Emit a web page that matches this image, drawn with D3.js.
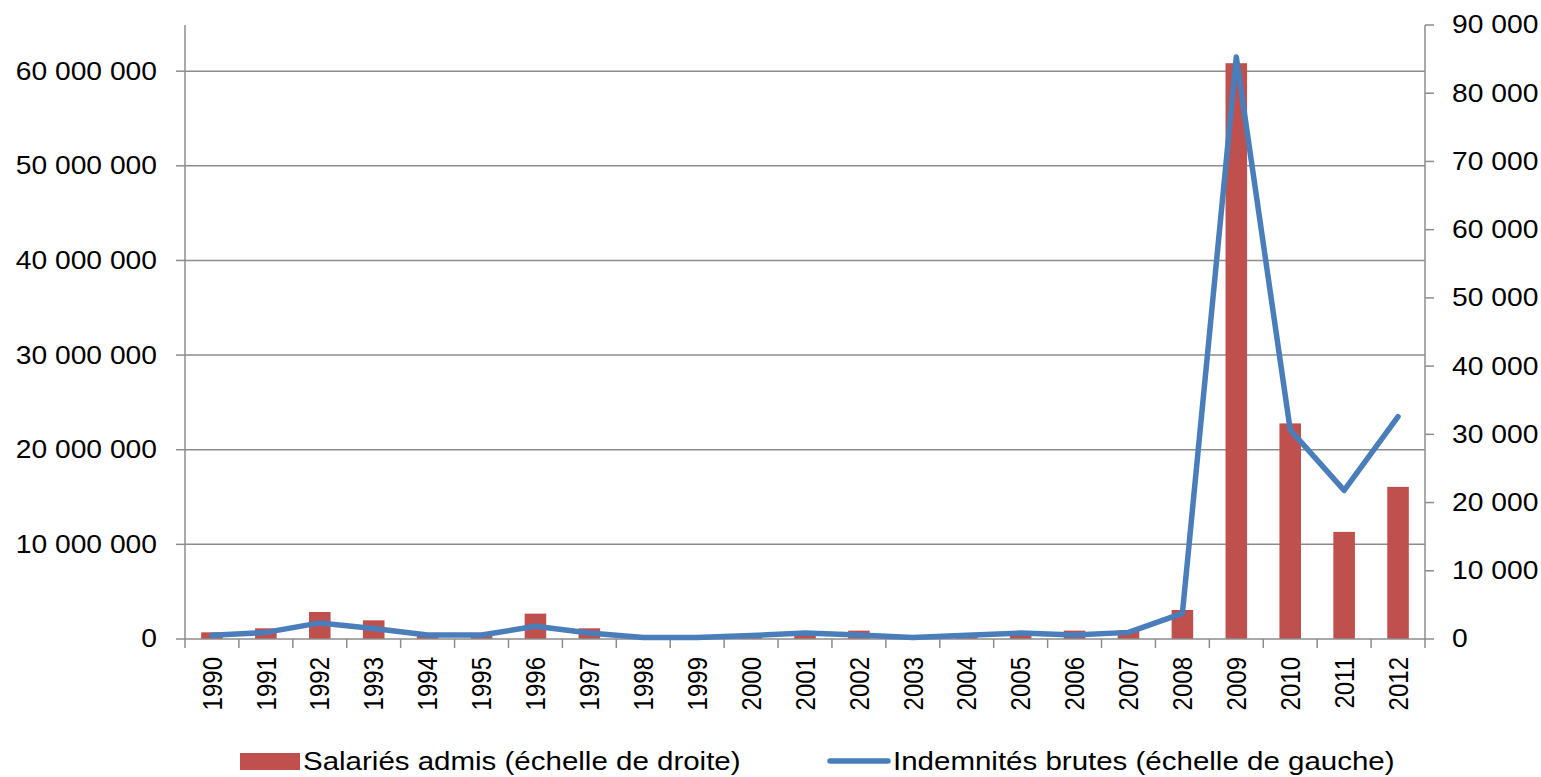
<!DOCTYPE html>
<html>
<head>
<meta charset="utf-8">
<script src="https://cdn.jsdelivr.net/npm/d3@7"></script>
<style>
  html, body { margin: 0; padding: 0; background: #fff; }
  svg { display: block; }
  text { font-family: "Liberation Sans", Arial, sans-serif; fill: #000; }
</style>
</head>
<body>
<svg id="chart" width="1541" height="777"></svg>
<script>
// Années
const years = ["1990","1991","1992","1993","1994","1995","1996","1997","1998","1999","2000",
               "2001","2002","2003","2004","2005","2006","2007","2008","2009","2010","2011","2012"];

// Salariés admis (échelle de droite)
const salaries = [980, 1570, 3960, 2740, 700, 600, 3720, 1570, 250, 250, 500,
                  1170, 1230, 300, 500, 1000, 1230, 1230, 4250, 84400, 31600, 15700, 22300];

// Indemnités brutes (échelle de gauche)
const indemnites = [400000, 700000, 1700000, 1100000, 420000, 420000, 1340000, 630000, 150000, 150000, 360000,
                    630000, 420000, 150000, 400000, 630000, 420000, 700000, 2700000, 61500000, 22100000, 15700000, 23500000];

const leftTicks = [0, 10000000, 20000000, 30000000, 40000000, 50000000, 60000000];
const rightTicks = [0, 10000, 20000, 30000, 40000, 50000, 60000, 70000, 80000, 90000];

const legendLabels = ["Salariés admis (échelle de droite)", "Indemnités brutes (échelle de gauche)"];

const BAR = "#c0504d", LINE = "#4a7ebb", GRID = "#8c8c8c";
const SX = 1.13; // horizontal widening of the type
const SX_LEGEND = 1.18;

const svg = d3.select("#chart");
const plot = { left: 185, right: 1425, top: 25, bottom: 639 };

const x = d3.scaleBand().domain(years).range([plot.left, plot.right]).paddingInner(0.6).paddingOuter(0.3);
const xCat = d3.scaleBand().domain(years).range([plot.left, plot.right]);
const yL = d3.scaleLinear().domain([0, 64880000]).range([plot.bottom, plot.top]);
const yR = d3.scaleLinear().domain([0, 90000]).range([plot.bottom, plot.top]);

const fmt = v => d3.format(",")(v).replace(/,/g, " ");

// Quadrillage horizontal (échelle de gauche)
svg.append("g").selectAll("line").data(leftTicks.slice(1)).join("line")
  .attr("x1", plot.left).attr("x2", plot.right)
  .attr("y1", d => yL(d)).attr("y2", d => yL(d))
  .attr("stroke", GRID).attr("stroke-width", 1.5);

// Axe gauche
const gL = svg.append("g");
gL.append("line").attr("x1", plot.left).attr("x2", plot.left)
  .attr("y1", plot.top).attr("y2", plot.bottom).attr("stroke", GRID).attr("stroke-width", 1.5);
gL.selectAll("line.t").data(leftTicks).join("line").attr("class", "t")
  .attr("x1", plot.left - 9).attr("x2", plot.left)
  .attr("y1", d => yL(d)).attr("y2", d => yL(d))
  .attr("stroke", GRID).attr("stroke-width", 1.5);
gL.selectAll("text").data(leftTicks).join("text")
  .attr("transform", d => `translate(${plot.left - 28},${yL(d)}) scale(${SX},1)`)
  .attr("text-anchor", "end").attr("dominant-baseline", "central")
  .style("font-size", "25px").text(fmt);

// Axe droit
const gR = svg.append("g");
gR.append("line").attr("x1", plot.right).attr("x2", plot.right)
  .attr("y1", plot.top).attr("y2", plot.bottom).attr("stroke", GRID).attr("stroke-width", 1.5);
gR.selectAll("line.t").data(rightTicks).join("line").attr("class", "t")
  .attr("x1", plot.right).attr("x2", plot.right + 9)
  .attr("y1", d => yR(d)).attr("y2", d => yR(d))
  .attr("stroke", GRID).attr("stroke-width", 1.5);
gR.selectAll("text").data(rightTicks).join("text")
  .attr("transform", d => `translate(${plot.right + 27},${yR(d)}) scale(${SX},1)`)
  .attr("text-anchor", "start").attr("dominant-baseline", "central")
  .style("font-size", "25px").text(fmt);

// Barres : salariés admis
svg.append("g").selectAll("rect").data(years).join("rect")
  .attr("x", d => x(d)).attr("width", x.bandwidth())
  .attr("y", (d, i) => yR(salaries[i]))
  .attr("height", (d, i) => yR(0) - yR(salaries[i]))
  .attr("fill", BAR);

// Axe des catégories
const gX = svg.append("g");
gX.append("line").attr("x1", plot.left).attr("x2", plot.right)
  .attr("y1", plot.bottom).attr("y2", plot.bottom).attr("stroke", GRID).attr("stroke-width", 1.5);
const bounds = years.map(d => xCat(d)).concat([plot.right]);
gX.selectAll("line.t").data(bounds).join("line").attr("class", "t")
  .attr("x1", d => d).attr("x2", d => d)
  .attr("y1", plot.bottom).attr("y2", plot.bottom + 9)
  .attr("stroke", GRID).attr("stroke-width", 1.5);
gX.selectAll("text").data(years).join("text")
  .attr("transform", d => `translate(${xCat(d) + xCat.bandwidth() / 2},${plot.bottom + 18}) scale(1.17,1) rotate(-90)`)
  .attr("text-anchor", "end").attr("dominant-baseline", "central")
  .style("font-size", "24px").text(d => d);

// Courbe : indemnités brutes
const line = d3.line()
  .x((d, i) => xCat(years[i]) + xCat.bandwidth() / 2)
  .y(d => yL(d));
svg.append("path").datum(indemnites)
  .attr("d", line).attr("fill", "none")
  .attr("stroke", LINE).attr("stroke-width", 5.5)
  .attr("stroke-linejoin", "round").attr("stroke-linecap", "round");

// Légende
const lg = svg.append("g");
lg.append("rect").attr("x", 240).attr("y", 753).attr("width", 60).attr("height", 17).attr("fill", BAR);
lg.append("text").attr("transform", `translate(303,770) scale(${SX_LEGEND},1)`)
  .style("font-size", "25px").text(legendLabels[0]);
lg.append("line").attr("x1", 830).attr("x2", 888).attr("y1", 761).attr("y2", 761)
  .attr("stroke", LINE).attr("stroke-width", 5.5).attr("stroke-linecap", "round");
lg.append("text").attr("transform", `translate(893,770) scale(${SX_LEGEND},1)`)
  .style("font-size", "25px").text(legendLabels[1]);
</script>
</body>
</html>
